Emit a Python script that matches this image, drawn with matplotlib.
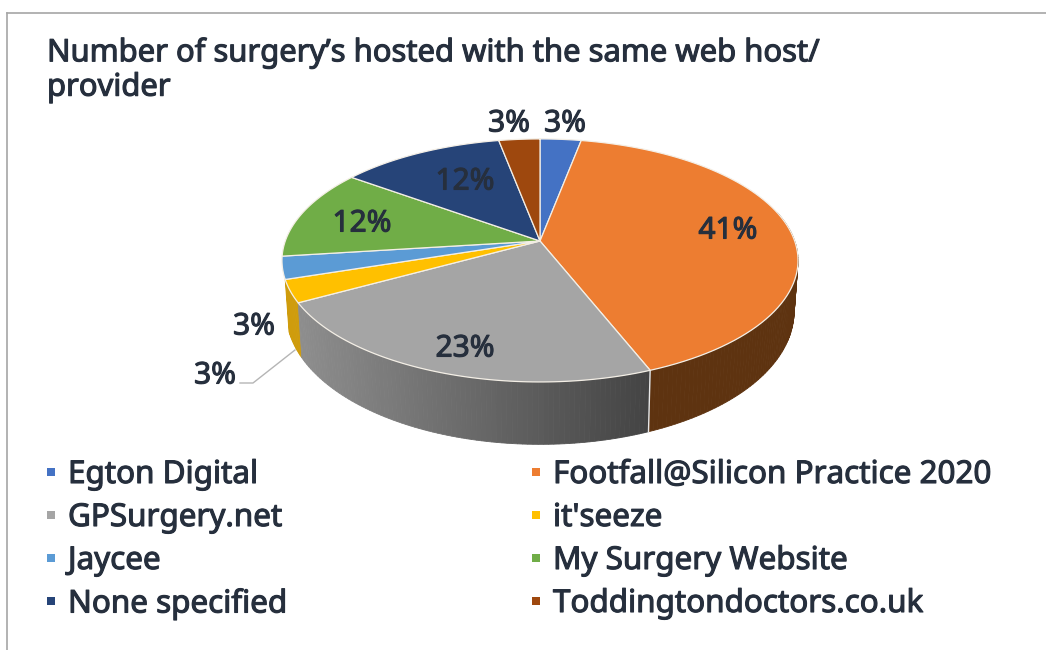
import numpy as np
import matplotlib
matplotlib.use('Agg')
import matplotlib.pyplot as plt
import matplotlib.patheffects as pe
from matplotlib.colors import to_rgb

title = "Number of surgery\u2019s hosted with the same web host/\nprovider"
categories = ['Egton Digital', 'Footfall@Silicon Practice 2020', 'GPSurgery.net', "it'seeze",
              'Jaycee', 'My Surgery Website', 'None specified', 'Toddingtondoctors.co.uk']
values = [3, 41, 23, 3, 3, 12, 12, 3]
colors = ['#4472C4', '#ED7D31', '#A5A5A5', '#FFC000', '#5B9BD5', '#70AD47', '#264478', '#9E480E']
# side wall shades, left end and right end
wall_left = ['#2f5597', '#5e3310', '#8e8e8e', '#cf9c0c', '#3f75a8', '#4f7a32', '#1a2f54', '#6e320a']
wall_right = ['#2f5597', '#5e3310', '#434343', '#b8890a', '#3f75a8', '#4f7a32', '#1a2f54', '#6e320a']
label_xy = [(565, 124), (728, 231), (465, 349), (254, 327), (215, 376), (362, 224), (465, 182), (509, 124)]

text_col = '#262f3d'
plt.rcParams['font.family'] = ['Noto Sans', 'DejaVu Sans']
heavy = [pe.withStroke(linewidth=0.8, foreground=text_col)]

fig = plt.figure(figsize=(10.46, 6.5), dpi=100)
ax = fig.add_axes([0, 0, 1, 1])
ax.set_xlim(0, 1046)
ax.set_ylim(650, 0)
ax.axis('off')

# fake perspective, disc seen from above, front edge is closer
cx, cy, a, b, k = 540, 241, 254.7, 118.4, 0.16


def top(t):
    u, v = np.sin(t), -np.cos(t)
    return cx + a * u / (1 - k * v), cy + b * v / (1 - k * v)


def bottom(t):
    x, y = top(t)
    v = -np.cos(t)
    return cx + (x - cx) * 0.985, y + 48 * (1 + 0.3 * v)


edges = np.radians(np.concatenate([[0], np.cumsum(values)]) / sum(values) * 360)

# walls, strips from back to front, only the slices that show a side
strips = []
for i in [1, 2, 3]:
    ts = np.linspace(edges[i], edges[i + 1], max(3, int(np.degrees(edges[i + 1] - edges[i])) + 2))
    for t0, t1 in zip(ts[:-1], ts[1:]):
        if np.cos((t0 + t1) / 2) < 0.25:
            strips.append((-np.cos((t0 + t1) / 2), i, t0, t1))
for depth, i, t0, t1 in sorted(strips, key=lambda s: s[0]):
    x0, y0 = top(t0)
    x1, y1 = top(t1)
    x2, y2 = bottom(t1)
    x3, y3 = bottom(t0)
    f = np.clip(((x0 + x1) / 2 - 298) / (652 - 298), 0, 1)
    c = (1 - f) * np.array(to_rgb(wall_left[i])) + f * np.array(to_rgb(wall_right[i]))
    ax.fill([x0, x1, x2, x3], [y0, y1, y2, y3], color=c, lw=0.6, zorder=2)

# light seam between the orange and grey walls
xs, ys = top(edges[2])
xe, ye = bottom(edges[2])
ax.plot([xs, xe], [ys, ye], color='#e8e8e8', lw=1, zorder=3)

# top face
for i, c in enumerate(colors):
    ts = np.linspace(edges[i], edges[i + 1], 80)
    x, y = top(ts)
    ax.fill(np.r_[cx, x], np.r_[cy, y], facecolor=c, edgecolor='#f4efe6', lw=0.9, zorder=4)

# percent labels
for v, (lx, ly) in zip(values, label_xy):
    ax.text(lx, ly, f'{v}%', ha='center', va='center', fontsize=21.5, color=text_col,
            zorder=6, path_effects=heavy)

ax.plot([295, 253, 240], [350, 383, 383], color='#b5b5b5', lw=1, zorder=5)

ax.text(47, 70, title, ha='left', va='center', fontsize=22.3, color=text_col,
        linespacing=1.19, path_effects=heavy)

# legend
rows = [475, 518, 561, 604]
for i, name in enumerate(categories):
    col = i % 2
    y = rows[i // 2]
    ax.scatter([51 + col * 485], [y - 3], marker='s', s=30, color=colors[i], linewidths=0)
    ax.text(68 + col * 485, y, name, ha='left', va='center', fontsize=22.6, color=text_col,
            path_effects=heavy)

# picture border, top and left only
ax.plot([7, 1046], [13, 13], color='#a6a6a6', lw=1.2)
ax.plot([7, 7], [13, 650], color='#a6a6a6', lw=1.2)

plt.savefig('out.png', dpi=100)
